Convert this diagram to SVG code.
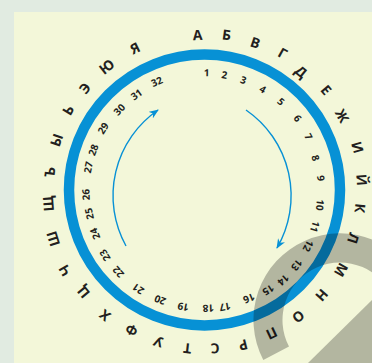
<svg xmlns="http://www.w3.org/2000/svg" width="372" height="363" viewBox="0 0 372 363">
<defs>
<style>
.l{font-family:"Open Sans","Liberation Sans",sans-serif;font-weight:700;font-size:14px;fill:#231f20;text-anchor:middle}
.n{font-family:"Open Sans","Liberation Sans",sans-serif;font-weight:700;font-size:10px;fill:#231f20;text-anchor:middle}
.arc{fill:none;stroke:#0791d5;stroke-width:1.4}
</style>
<marker id="ah" viewBox="0 0 10 8" refX="9" refY="4" markerWidth="10" markerHeight="8" markerUnits="userSpaceOnUse" orient="auto">
<path d="M0,0 L10,4 L0,8 L3,4 z" fill="#0791d5"/>
</marker>
</defs>
<rect width="372" height="363" fill="#e1ebe1"/>
<rect x="14" y="12" width="358" height="351" fill="#f3f7d9"/>
<g id="ring"><circle cx="204.5" cy="190" r="135.5" fill="none" stroke="#0791d5" stroke-width="10.5"/></g>
<g id="connectors">
<path class="arc" d="M126,246 A104,104 0 0 1 158,110" marker-end="url(#ah)"/>
<path class="arc" d="M246,110 A104,104 0 0 1 277,248" marker-end="url(#ah)"/>
</g>
<g id="letters">
<text class="l" dy="5" transform="translate(197.7,35) rotate(-2.7)">А</text>
<text class="l" dy="5" transform="translate(226.7,35) rotate(7.9)">Б</text>
<text class="l" dy="5" transform="translate(255.3,42.7) rotate(18.7)">В</text>
<text class="l" dy="5" transform="translate(282.7,53.3) rotate(29.3)">Г</text>
<text class="l" dy="5" transform="translate(301,71.7) rotate(38.7)">Д</text>
<text class="l" dy="5" transform="translate(326,90) rotate(50)">Е</text>
<text class="l" dy="5" transform="translate(342,116) rotate(61.3)">Ж</text>
<text class="l" dy="5" transform="translate(357.5,147.5) rotate(73.7)">И</text>
<text class="l" dy="5" transform="translate(361.7,180) rotate(85.8)">Й</text>
<text class="l" dy="5" transform="translate(360,208.3) rotate(96.2)">К</text>
<text class="l" dy="5" transform="translate(353.3,238.3) rotate(107.5)">Л</text>
<text class="l" dy="5" transform="translate(341,270) rotate(120)">М</text>
<text class="l" dy="5" transform="translate(321.7,295) rotate(131.6)">Н</text>
<text class="l" dy="5" transform="translate(298.3,316.7) rotate(143.3)">О</text>
<text class="l" dy="5" transform="translate(271.7,333.3) rotate(154.8)">П</text>
<text class="l" dy="5" transform="translate(243.3,345) rotate(166)">Р</text>
<text class="l" dy="5" transform="translate(215,348.3) rotate(176.4)">С</text>
<text class="l" dy="5" transform="translate(187.3,348.3) rotate(186.4)">Т</text>
<text class="l" dy="5" transform="translate(158.3,341.7) rotate(197.3)">У</text>
<text class="l" dy="5" transform="translate(131.7,330) rotate(207.9)">Ф</text>
<text class="l" dy="5" transform="translate(105,315.3) rotate(218.9)">Х</text>
<text class="l" dy="5" transform="translate(83.3,292) rotate(230.4)">Ц</text>
<text class="l" dy="5" transform="translate(65,270.3) rotate(240.6)">Ч</text>
<text class="l" dy="5" transform="translate(53.3,238.7) rotate(252.7)">Ш</text>
<text class="l" dy="5" transform="translate(48.3,203.7) rotate(265.5)">Щ</text>
<text class="l" dy="5" transform="translate(50,171.7) rotate(277.3)">Ъ</text>
<text class="l" dy="5" transform="translate(56.7,140) rotate(289.2)">Ы</text>
<text class="l" dy="5" transform="translate(68.3,110) rotate(300.8)">Ь</text>
<text class="l" dy="5" transform="translate(85,88.3) rotate(310.7)">Э</text>
<text class="l" dy="5" transform="translate(106.7,66.7) rotate(321.8)">Ю</text>
<text class="l" dy="5" transform="translate(135,48.3) rotate(333.9)">Я</text>
</g>
<g id="numbers">
<text class="n" dy="3.6" transform="translate(206.7,72.7) rotate(0.8)">1</text>
<text class="n" dy="3.6" transform="translate(224.3,75) rotate(9.4)">2</text>
<text class="n" dy="3.6" transform="translate(243.3,80) rotate(19)">3</text>
<text class="n" dy="3.6" transform="translate(262.7,89.3) rotate(29.4)">4</text>
<text class="n" dy="3.6" transform="translate(281,101.7) rotate(40.2)">5</text>
<text class="n" dy="3.6" transform="translate(297.7,118.3) rotate(51.7)">6</text>
<text class="n" dy="3.6" transform="translate(308.5,136.7) rotate(62.1)">7</text>
<text class="n" dy="3.6" transform="translate(315.5,158) rotate(73)">8</text>
<text class="n" dy="3.6" transform="translate(321,178.3) rotate(83.5)">9</text>
<text class="n" dy="3.6" transform="translate(320,205) rotate(96.7)">10</text>
<text class="n" dy="3.6" transform="translate(315,226.7) rotate(107.7)">11</text>
<text class="n" dy="3.6" transform="translate(308.3,246) rotate(117.7)">12</text>
<text class="n" dy="3.6" transform="translate(296.7,265) rotate(128.7)">13</text>
<text class="n" dy="3.6" transform="translate(283.3,280) rotate(138.5)">14</text>
<text class="n" dy="3.6" transform="translate(268.3,290) rotate(147.3)">15</text>
<text class="n" dy="3.6" transform="translate(249,298.3) rotate(157.5)">16</text>
<text class="n" dy="3.6" transform="translate(225,306.7) rotate(170.2)">17</text>
<text class="n" dy="3.6" transform="translate(208.3,308.3) rotate(178.4)">18</text>
<text class="n" dy="3.6" transform="translate(183.3,306.7) rotate(190.7)">19</text>
<text class="n" dy="3.6" transform="translate(160,300) rotate(202.5)">20</text>
<text class="n" dy="3.6" transform="translate(138.3,289) rotate(214.5)">21</text>
<text class="n" dy="3.6" transform="translate(118.3,272) rotate(227.1)">22</text>
<text class="n" dy="3.6" transform="translate(105,255.3) rotate(237.5)">23</text>
<text class="n" dy="3.6" transform="translate(95,233.7) rotate(249)">24</text>
<text class="n" dy="3.6" transform="translate(89.3,213.7) rotate(259.1)">25</text>
<text class="n" dy="3.6" transform="translate(86,194.7) rotate(268.5)">26</text>
<text class="n" dy="3.6" transform="translate(88.3,167.3) rotate(281.7)">27</text>
<text class="n" dy="3.6" transform="translate(93.3,150) rotate(290.4)">28</text>
<text class="n" dy="3.6" transform="translate(103.3,128.3) rotate(301.9)">29</text>
<text class="n" dy="3.6" transform="translate(119.3,109.5) rotate(313.6)">30</text>
<text class="n" dy="3.6" transform="translate(136.5,94.5) rotate(324.8)">31</text>
<text class="n" dy="3.6" transform="translate(156.7,81.7) rotate(336.3)">32</text>
</g>
<g id="watermark" opacity="0.26">
<path d="M263.3,359.9 A86.5,86.5 0 1 1 421.3,290.4 L394,300.3 A57.5,57.5 0 1 0 289,346.6 Z" fill="#000"/>
<path d="M308,363 L372,300 L380,300 L380,363 Z" fill="#000"/>
</g>
</svg>
